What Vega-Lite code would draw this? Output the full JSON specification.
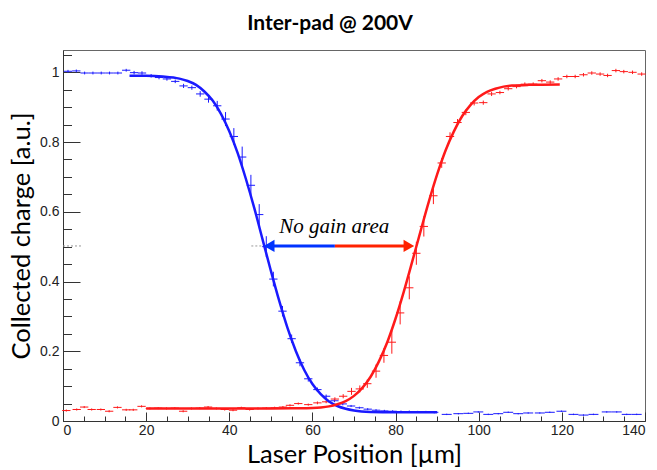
{
  "$schema": "https://vega.github.io/schema/vega-lite/v6.json",
  "autosize": "none",
  "width": 582,
  "height": 371,
  "padding": {"left": 63, "top": 50, "right": 12, "bottom": 49},
  "background": "white",
  "title": {"text": "Inter-pad @ 200V", "font": "Lato", "fontSize": 21, "fontWeight": "bold", "anchor": "middle", "offset": 16, "dx": -24, "color": "black"},
  "config": {
    "view": {"stroke": "#666", "strokeWidth": 1},
    "axis": {"grid": false, "domainColor": "#333", "tickColor": "#333", "labelFont": "Liberation Sans", "labelFontSize": 14, "labelColor": "#222", "titleFont": "Lato", "titleFontSize": 25.5, "titleFontWeight": "normal", "titleColor": "black"}
  },
  "resolve": {"axis": {"x": "independent", "y": "independent"}},
  "datasets": {
    "pts": [
      {"series": "blue", "x": 1.2, "y": 1.003, "ex": 1, "ey": 0.004},
      {"series": "blue", "x": 3.2, "y": 1.004, "ex": 1, "ey": 0.004},
      {"series": "blue", "x": 5.2, "y": 0.998, "ex": 1, "ey": 0.004},
      {"series": "blue", "x": 7.2, "y": 0.998, "ex": 1, "ey": 0.004},
      {"series": "blue", "x": 9.2, "y": 0.998, "ex": 1, "ey": 0.004},
      {"series": "blue", "x": 11.2, "y": 0.998, "ex": 1, "ey": 0.004},
      {"series": "blue", "x": 13.2, "y": 0.998, "ex": 1, "ey": 0.004},
      {"series": "blue", "x": 15.2, "y": 1.006, "ex": 1, "ey": 0.004},
      {"series": "blue", "x": 17.1, "y": 0.999, "ex": 1, "ey": 0.005},
      {"series": "blue", "x": 19.0, "y": 0.998, "ex": 1, "ey": 0.005},
      {"series": "blue", "x": 21.2, "y": 0.990, "ex": 1, "ey": 0.005},
      {"series": "blue", "x": 23.1, "y": 0.985, "ex": 1, "ey": 0.005},
      {"series": "blue", "x": 25.0, "y": 0.981, "ex": 1, "ey": 0.005},
      {"series": "blue", "x": 27.0, "y": 0.974, "ex": 1, "ey": 0.005},
      {"series": "blue", "x": 29.0, "y": 0.961, "ex": 1, "ey": 0.006},
      {"series": "blue", "x": 31.0, "y": 0.956, "ex": 1, "ey": 0.006},
      {"series": "blue", "x": 33.0, "y": 0.938, "ex": 1, "ey": 0.008},
      {"series": "blue", "x": 35.0, "y": 0.923, "ex": 1, "ey": 0.01},
      {"series": "blue", "x": 37.1, "y": 0.904, "ex": 1, "ey": 0.014},
      {"series": "blue", "x": 39.1, "y": 0.866, "ex": 1, "ey": 0.02},
      {"series": "blue", "x": 41.1, "y": 0.816, "ex": 1, "ey": 0.024},
      {"series": "blue", "x": 43.1, "y": 0.757, "ex": 1, "ey": 0.03},
      {"series": "blue", "x": 45.2, "y": 0.676, "ex": 1, "ey": 0.03},
      {"series": "blue", "x": 47.2, "y": 0.592, "ex": 1, "ey": 0.03},
      {"series": "blue", "x": 48.9, "y": 0.500, "ex": 1, "ey": 0.03},
      {"series": "blue", "x": 50.6, "y": 0.407, "ex": 1, "ey": 0.021},
      {"series": "blue", "x": 52.8, "y": 0.315, "ex": 1, "ey": 0.015},
      {"series": "blue", "x": 55.0, "y": 0.236, "ex": 1, "ey": 0.012},
      {"series": "blue", "x": 57.0, "y": 0.167, "ex": 1, "ey": 0.01},
      {"series": "blue", "x": 59.0, "y": 0.121, "ex": 1, "ey": 0.008},
      {"series": "blue", "x": 61.2, "y": 0.090, "ex": 1, "ey": 0.006},
      {"series": "blue", "x": 63.3, "y": 0.071, "ex": 1, "ey": 0.005},
      {"series": "blue", "x": 65.3, "y": 0.058, "ex": 1, "ey": 0.004},
      {"series": "blue", "x": 67.3, "y": 0.049, "ex": 1, "ey": 0.004},
      {"series": "blue", "x": 69.3, "y": 0.043, "ex": 1, "ey": 0.003},
      {"series": "blue", "x": 71.3, "y": 0.038, "ex": 1, "ey": 0.003},
      {"series": "blue", "x": 73.3, "y": 0.034, "ex": 1, "ey": 0.003},
      {"series": "blue", "x": 75.3, "y": 0.031, "ex": 1, "ey": 0.003},
      {"series": "blue", "x": 77.3, "y": 0.029, "ex": 1, "ey": 0.003},
      {"series": "blue", "x": 79.3, "y": 0.028, "ex": 1, "ey": 0.003},
      {"series": "blue", "x": 81.3, "y": 0.027, "ex": 1, "ey": 0.003},
      {"series": "blue", "x": 83.3, "y": 0.027, "ex": 1, "ey": 0.003},
      {"series": "blue", "x": 85.3, "y": 0.026, "ex": 1, "ey": 0.003},
      {"series": "blue", "x": 87.3, "y": 0.026, "ex": 1, "ey": 0.003},
      {"series": "blue", "x": 89.3, "y": 0.025, "ex": 1, "ey": 0.003},
      {"series": "blue", "x": 92.3, "y": 0.019, "ex": 1.2, "ey": 0.002},
      {"series": "blue", "x": 95.1, "y": 0.021, "ex": 1.2, "ey": 0.002},
      {"series": "blue", "x": 97.5, "y": 0.022, "ex": 1.2, "ey": 0.002},
      {"series": "blue", "x": 99.9, "y": 0.026, "ex": 1.2, "ey": 0.002},
      {"series": "blue", "x": 102.3, "y": 0.019, "ex": 1.2, "ey": 0.002},
      {"series": "blue", "x": 104.7, "y": 0.021, "ex": 1.2, "ey": 0.002},
      {"series": "blue", "x": 107.1, "y": 0.025, "ex": 1.2, "ey": 0.002},
      {"series": "blue", "x": 109.5, "y": 0.021, "ex": 1.2, "ey": 0.002},
      {"series": "blue", "x": 111.9, "y": 0.023, "ex": 1.2, "ey": 0.002},
      {"series": "blue", "x": 114.7, "y": 0.023, "ex": 1.2, "ey": 0.002},
      {"series": "blue", "x": 117.1, "y": 0.025, "ex": 1.2, "ey": 0.002},
      {"series": "blue", "x": 119.9, "y": 0.028, "ex": 1.2, "ey": 0.002},
      {"series": "blue", "x": 122.8, "y": 0.019, "ex": 1.2, "ey": 0.002},
      {"series": "blue", "x": 125.2, "y": 0.017, "ex": 1.2, "ey": 0.002},
      {"series": "blue", "x": 127.6, "y": 0.019, "ex": 1.2, "ey": 0.002},
      {"series": "blue", "x": 130.8, "y": 0.026, "ex": 1.2, "ey": 0.002},
      {"series": "blue", "x": 133.2, "y": 0.026, "ex": 1.2, "ey": 0.002},
      {"series": "blue", "x": 135.6, "y": 0.019, "ex": 1.2, "ey": 0.002},
      {"series": "blue", "x": 138.0, "y": 0.019, "ex": 1.2, "ey": 0.002},
      {"series": "red", "x": 0.8, "y": 0.030, "ex": 1, "ey": 0.003},
      {"series": "red", "x": 3.3, "y": 0.033, "ex": 1, "ey": 0.003},
      {"series": "red", "x": 5.1, "y": 0.040, "ex": 1, "ey": 0.003},
      {"series": "red", "x": 6.9, "y": 0.033, "ex": 1, "ey": 0.003},
      {"series": "red", "x": 9.1, "y": 0.033, "ex": 1, "ey": 0.003},
      {"series": "red", "x": 11.1, "y": 0.028, "ex": 1, "ey": 0.003},
      {"series": "red", "x": 13.1, "y": 0.039, "ex": 1, "ey": 0.003},
      {"series": "red", "x": 15.2, "y": 0.032, "ex": 1, "ey": 0.003},
      {"series": "red", "x": 16.9, "y": 0.032, "ex": 1, "ey": 0.003},
      {"series": "red", "x": 18.9, "y": 0.042, "ex": 1, "ey": 0.003},
      {"series": "red", "x": 20.9, "y": 0.036, "ex": 1, "ey": 0.003},
      {"series": "red", "x": 22.9, "y": 0.037, "ex": 1, "ey": 0.003},
      {"series": "red", "x": 24.9, "y": 0.036, "ex": 1, "ey": 0.003},
      {"series": "red", "x": 26.9, "y": 0.037, "ex": 1, "ey": 0.003},
      {"series": "red", "x": 28.9, "y": 0.028, "ex": 1, "ey": 0.003},
      {"series": "red", "x": 30.9, "y": 0.036, "ex": 1, "ey": 0.003},
      {"series": "red", "x": 32.9, "y": 0.037, "ex": 1, "ey": 0.003},
      {"series": "red", "x": 34.9, "y": 0.040, "ex": 1, "ey": 0.003},
      {"series": "red", "x": 36.9, "y": 0.036, "ex": 1, "ey": 0.003},
      {"series": "red", "x": 38.9, "y": 0.033, "ex": 1, "ey": 0.003},
      {"series": "red", "x": 40.9, "y": 0.031, "ex": 1, "ey": 0.003},
      {"series": "red", "x": 42.9, "y": 0.038, "ex": 1, "ey": 0.003},
      {"series": "red", "x": 44.9, "y": 0.033, "ex": 1, "ey": 0.003},
      {"series": "red", "x": 46.9, "y": 0.036, "ex": 1, "ey": 0.003},
      {"series": "red", "x": 48.9, "y": 0.037, "ex": 1, "ey": 0.003},
      {"series": "red", "x": 50.9, "y": 0.038, "ex": 1, "ey": 0.003},
      {"series": "red", "x": 52.9, "y": 0.040, "ex": 1, "ey": 0.003},
      {"series": "red", "x": 54.6, "y": 0.045, "ex": 1, "ey": 0.003},
      {"series": "red", "x": 56.6, "y": 0.050, "ex": 1, "ey": 0.003},
      {"series": "red", "x": 59.0, "y": 0.047, "ex": 1, "ey": 0.003},
      {"series": "red", "x": 61.2, "y": 0.052, "ex": 1, "ey": 0.004},
      {"series": "red", "x": 63.3, "y": 0.055, "ex": 1, "ey": 0.004},
      {"series": "red", "x": 65.4, "y": 0.063, "ex": 1, "ey": 0.005},
      {"series": "red", "x": 67.4, "y": 0.071, "ex": 1, "ey": 0.006},
      {"series": "red", "x": 69.4, "y": 0.085, "ex": 1, "ey": 0.01},
      {"series": "red", "x": 71.4, "y": 0.092, "ex": 1, "ey": 0.01},
      {"series": "red", "x": 73.2, "y": 0.107, "ex": 1, "ey": 0.012},
      {"series": "red", "x": 75.3, "y": 0.143, "ex": 1, "ey": 0.019},
      {"series": "red", "x": 77.2, "y": 0.188, "ex": 1, "ey": 0.021},
      {"series": "red", "x": 79.1, "y": 0.226, "ex": 1, "ey": 0.033},
      {"series": "red", "x": 81.1, "y": 0.310, "ex": 1, "ey": 0.033},
      {"series": "red", "x": 83.3, "y": 0.382, "ex": 1, "ey": 0.033},
      {"series": "red", "x": 85.0, "y": 0.481, "ex": 1, "ey": 0.033},
      {"series": "red", "x": 86.8, "y": 0.558, "ex": 1, "ey": 0.029},
      {"series": "red", "x": 89.1, "y": 0.646, "ex": 1, "ey": 0.024},
      {"series": "red", "x": 91.1, "y": 0.740, "ex": 1, "ey": 0.014},
      {"series": "red", "x": 93.1, "y": 0.816, "ex": 1, "ey": 0.012},
      {"series": "red", "x": 94.9, "y": 0.856, "ex": 1, "ey": 0.01},
      {"series": "red", "x": 96.9, "y": 0.885, "ex": 1, "ey": 0.008},
      {"series": "red", "x": 98.9, "y": 0.912, "ex": 1, "ey": 0.007},
      {"series": "red", "x": 101.1, "y": 0.913, "ex": 1, "ey": 0.006},
      {"series": "red", "x": 103.1, "y": 0.938, "ex": 1, "ey": 0.006},
      {"series": "red", "x": 105.1, "y": 0.942, "ex": 1, "ey": 0.005},
      {"series": "red", "x": 107.1, "y": 0.953, "ex": 1, "ey": 0.005},
      {"series": "red", "x": 109.1, "y": 0.959, "ex": 1, "ey": 0.005},
      {"series": "red", "x": 111.1, "y": 0.966, "ex": 1, "ey": 0.005},
      {"series": "red", "x": 113.1, "y": 0.966, "ex": 1, "ey": 0.005},
      {"series": "red", "x": 115.2, "y": 0.976, "ex": 1, "ey": 0.005},
      {"series": "red", "x": 117.2, "y": 0.972, "ex": 1, "ey": 0.005},
      {"series": "red", "x": 119.1, "y": 0.981, "ex": 1, "ey": 0.005},
      {"series": "red", "x": 121.2, "y": 0.988, "ex": 1, "ey": 0.005},
      {"series": "red", "x": 123.2, "y": 0.988, "ex": 1, "ey": 0.005},
      {"series": "red", "x": 125.2, "y": 0.993, "ex": 1, "ey": 0.005},
      {"series": "red", "x": 127.2, "y": 0.998, "ex": 1, "ey": 0.005},
      {"series": "red", "x": 129.2, "y": 0.995, "ex": 1, "ey": 0.005},
      {"series": "red", "x": 131.0, "y": 0.991, "ex": 1, "ey": 0.005},
      {"series": "red", "x": 133.0, "y": 1.005, "ex": 1, "ey": 0.005},
      {"series": "red", "x": 134.9, "y": 1.002, "ex": 1, "ey": 0.005},
      {"series": "red", "x": 137.0, "y": 1.000, "ex": 1, "ey": 0.005},
      {"series": "red", "x": 139.2, "y": 0.995, "ex": 1, "ey": 0.005}
    ],
    "fit": [
      {"series": "blue", "x": 16, "y": 0.990},
      {"series": "blue", "x": 20, "y": 0.990},
      {"series": "blue", "x": 24, "y": 0.988},
      {"series": "blue", "x": 28, "y": 0.982},
      {"series": "blue", "x": 30, "y": 0.975},
      {"series": "blue", "x": 32, "y": 0.964},
      {"series": "blue", "x": 34, "y": 0.945},
      {"series": "blue", "x": 36, "y": 0.919},
      {"series": "blue", "x": 38, "y": 0.881},
      {"series": "blue", "x": 40, "y": 0.831},
      {"series": "blue", "x": 42, "y": 0.769},
      {"series": "blue", "x": 44, "y": 0.694},
      {"series": "blue", "x": 46, "y": 0.611},
      {"series": "blue", "x": 48, "y": 0.521},
      {"series": "blue", "x": 50, "y": 0.431},
      {"series": "blue", "x": 52, "y": 0.345},
      {"series": "blue", "x": 54, "y": 0.267},
      {"series": "blue", "x": 56, "y": 0.201},
      {"series": "blue", "x": 58, "y": 0.147},
      {"series": "blue", "x": 60, "y": 0.106},
      {"series": "blue", "x": 62, "y": 0.077},
      {"series": "blue", "x": 64, "y": 0.056},
      {"series": "blue", "x": 66, "y": 0.043},
      {"series": "blue", "x": 68, "y": 0.035},
      {"series": "blue", "x": 70, "y": 0.030},
      {"series": "blue", "x": 74, "y": 0.026},
      {"series": "blue", "x": 80, "y": 0.025},
      {"series": "blue", "x": 90, "y": 0.025},
      {"series": "red", "x": 20, "y": 0.036},
      {"series": "red", "x": 30, "y": 0.036},
      {"series": "red", "x": 40, "y": 0.036},
      {"series": "red", "x": 50, "y": 0.036},
      {"series": "red", "x": 56, "y": 0.0365},
      {"series": "red", "x": 60, "y": 0.0375},
      {"series": "red", "x": 62, "y": 0.039},
      {"series": "red", "x": 64, "y": 0.042},
      {"series": "red", "x": 66, "y": 0.048},
      {"series": "red", "x": 68, "y": 0.057},
      {"series": "red", "x": 70, "y": 0.072},
      {"series": "red", "x": 72, "y": 0.095},
      {"series": "red", "x": 74, "y": 0.127},
      {"series": "red", "x": 76, "y": 0.171},
      {"series": "red", "x": 78, "y": 0.226},
      {"series": "red", "x": 80, "y": 0.294},
      {"series": "red", "x": 82, "y": 0.372},
      {"series": "red", "x": 84, "y": 0.457},
      {"series": "red", "x": 86, "y": 0.544},
      {"series": "red", "x": 88, "y": 0.629},
      {"series": "red", "x": 90, "y": 0.707},
      {"series": "red", "x": 92, "y": 0.775},
      {"series": "red", "x": 94, "y": 0.830},
      {"series": "red", "x": 96, "y": 0.874},
      {"series": "red", "x": 98, "y": 0.906},
      {"series": "red", "x": 100, "y": 0.929},
      {"series": "red", "x": 102, "y": 0.944},
      {"series": "red", "x": 104, "y": 0.953},
      {"series": "red", "x": 106, "y": 0.959},
      {"series": "red", "x": 108, "y": 0.962},
      {"series": "red", "x": 112, "y": 0.964},
      {"series": "red", "x": 119.5, "y": 0.965}
    ]
  },
  "layer": [
    {
      "data": {"name": "pts"},
      "mark": {"type": "errorbar", "ticks": false, "thickness": 1},
      "encoding": {
        "x": {"field": "x", "type": "quantitative", "scale": {"domain": [0, 140], "nice": false},
          "axis": {"orient": "bottom", "title": "Laser Position [µm]", "titlePadding": 5,
            "values": [0, 20, 40, 60, 80, 100, 120, 140],
            "tickSize": -9, "labelPadding": 11}},
        "xError": {"field": "ex"},
        "y": {"field": "y", "type": "quantitative", "scale": {"domain": [0, 1.064], "nice": false, "zero": false},
          "axis": {"orient": "left", "title": "Collected charge [a.u.]", "titlePadding": 5,
            "values": [0, 0.2, 0.4, 0.6, 0.8, 1],
            "tickSize": -17, "labelPadding": 21, "labelExpr": "format(datum.value, '~g')"}},
        "color": {"field": "series", "type": "nominal", "scale": {"domain": ["blue", "red"], "range": ["#1a1aff", "#ff1a1a"]}, "legend": null}
      }
    },
    {
      "data": {"name": "pts"},
      "mark": {"type": "errorbar", "ticks": false, "thickness": 1},
      "encoding": {
        "x": {"field": "x", "type": "quantitative",
          "axis": {"orient": "bottom", "title": null, "labels": false, "domain": false,
            "values": [5,10,15,25,30,35,45,50,55,65,70,75,85,90,95,105,110,115,125,130,135],
            "tickSize": -5}},
        "y": {"field": "y", "type": "quantitative",
          "axis": {"orient": "left", "title": null, "labels": false, "domain": false,
            "values": [0.05,0.1,0.15,0.25,0.3,0.35,0.45,0.5,0.55,0.65,0.7,0.75,0.85,0.9,0.95,1.05],
            "tickSize": -8.5}},
        "yError": {"field": "ey"},
        "color": {"field": "series", "type": "nominal", "legend": null}
      }
    },
    {
      "data": {"name": "fit"},
      "mark": {"type": "line", "strokeWidth": 2.5, "interpolate": "monotone"},
      "encoding": {
        "x": {"field": "x", "type": "quantitative", "axis": null},
        "y": {"field": "y", "type": "quantitative", "axis": null},
        "color": {"field": "series", "type": "nominal", "legend": null}
      }
    },
    {
      "data": {"values": [{"x": 0, "x2": 4.5, "y": 0.502}, {"x": 45.3, "x2": 48, "y": 0.502}]},
      "mark": {"type": "rule", "color": "#999", "strokeWidth": 1, "strokeDash": [2, 2], "clip": false},
      "encoding": {"x": {"field": "x", "type": "quantitative", "axis": null}, "x2": {"field": "x2"}, "y": {"field": "y", "type": "quantitative", "axis": null}}
    },
    {
      "data": {"values": [{"x": 49, "x2": 65.4, "y": 0.502}]},
      "mark": {"type": "rule", "color": "#0033ff", "strokeWidth": 3},
      "encoding": {"x": {"field": "x", "type": "quantitative", "axis": null}, "x2": {"field": "x2"}, "y": {"field": "y", "type": "quantitative", "axis": null}}
    },
    {
      "data": {"values": [{"x": 65.4, "x2": 83.5, "y": 0.502}]},
      "mark": {"type": "rule", "color": "#ff2200", "strokeWidth": 3},
      "encoding": {"x": {"field": "x", "type": "quantitative", "axis": null}, "x2": {"field": "x2"}, "y": {"field": "y", "type": "quantitative", "axis": null}}
    },
    {
      "data": {"values": [{"x": 49.6, "y": 0.502}]},
      "mark": {"type": "point", "shape": "triangle-left", "filled": true, "color": "#0033ff", "size": 150, "opacity": 1},
      "encoding": {"x": {"field": "x", "type": "quantitative", "axis": null}, "y": {"field": "y", "type": "quantitative", "axis": null}}
    },
    {
      "data": {"values": [{"x": 83.2, "y": 0.502}]},
      "mark": {"type": "point", "shape": "triangle-right", "filled": true, "color": "#ff2200", "size": 150, "opacity": 1},
      "encoding": {"x": {"field": "x", "type": "quantitative", "axis": null}, "y": {"field": "y", "type": "quantitative", "axis": null}}
    },
    {
      "data": {"values": [{"x": 52, "y": 0.54, "label": "No gain area"}]},
      "mark": {"type": "text", "font": "Liberation Serif", "fontStyle": "italic", "fontSize": 21, "align": "left", "baseline": "alphabetic", "color": "black"},
      "encoding": {"x": {"field": "x", "type": "quantitative", "axis": null}, "y": {"field": "y", "type": "quantitative", "axis": null}, "text": {"field": "label"}}
    }
  ]
}
